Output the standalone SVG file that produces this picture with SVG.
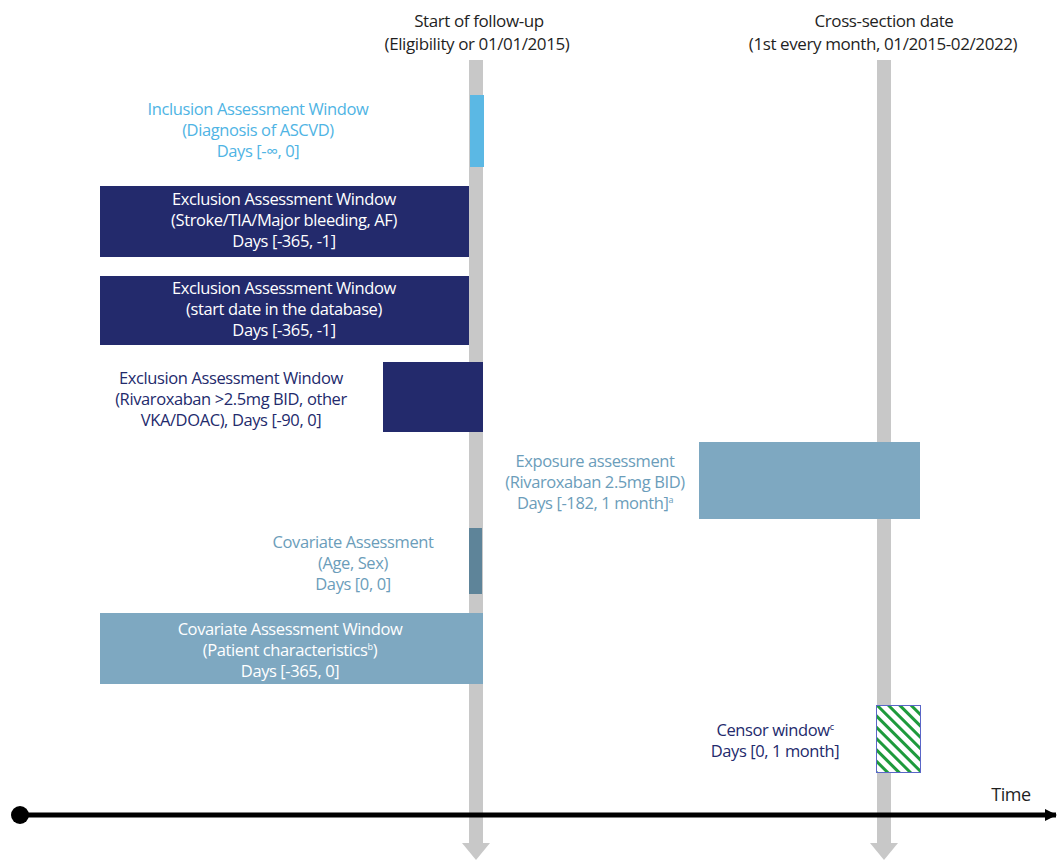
<svg xmlns="http://www.w3.org/2000/svg" width="1057" height="860" viewBox="0 0 1057 860">
<defs>
<style>
text{font-family:"Open Sans","Noto Sans","Liberation Sans",sans-serif;font-size:16.5px;font-weight:500;text-anchor:middle;letter-spacing:-0.4px}
.dark{fill:#1f1f1f}
.ttl{font-size:17px}
.w{fill:#ffffff}
.navy{fill:#232a6c}
.lb{fill:#4fb4e4}
.sb{fill:#6b9dba}
.gbar{fill:#c8c8c8}
</style>
<pattern id="hatch" patternUnits="userSpaceOnUse" width="8" height="8" patternTransform="rotate(-45)">
<rect width="8" height="8" fill="#ffffff"/>
<rect width="3" height="8" fill="#1e9a3c"/>
</pattern>
<marker id="tarrow" markerWidth="12" markerHeight="12" refX="11" refY="6" orient="auto" markerUnits="userSpaceOnUse">
<path d="M0,0 L12,6 L0,12 Z" fill="#000"/>
</marker>
</defs>
<rect width="1057" height="860" fill="#ffffff"/>
<g id="connectors">
<g id="startline">
<rect class="gbar" x="469" y="60" width="14" height="784"/>
<path class="gbar" d="M462,843 L490,843 L476,860 Z"/>
</g>
<g id="crossline">
<rect class="gbar" x="877" y="60" width="14" height="784"/>
<path class="gbar" d="M870,843 L898,843 L884,860 Z"/>
</g>
<g id="timeline">
<line x1="20" y1="815" x2="1056" y2="815" stroke="#000" stroke-width="5" marker-end="url(#tarrow)"/>
<circle cx="20" cy="815" r="9" fill="#000"/>
</g>
</g>
<g id="label-start">
<text class="dark ttl" x="479" y="27">Start of follow-up</text>
<text class="dark ttl" x="477" y="50">(Eligibility or 01/01/2015)</text>
</g>
<g id="label-cross">
<text class="dark ttl" x="884" y="27">Cross-section date</text>
<text class="dark ttl" x="883" y="50">(1st every month, 01/2015-02/2022)</text>
</g>
<g id="inclusion">
<rect x="470" y="95" width="14" height="72" fill="#5bb8e4"/>
<text class="lb" x="258" y="115">Inclusion Assessment Window</text>
<text class="lb" x="258" y="136">(Diagnosis of ASCVD)</text>
<text class="lb" x="258" y="157">Days [-∞, 0]</text>
</g>
<g id="exclusion1">
<rect x="100" y="186" width="369" height="71" fill="#232a6c"/>
<text class="w" x="284" y="205">Exclusion Assessment Window</text>
<text class="w" x="284" y="226">(Stroke/TIA/Major bleeding, AF)</text>
<text class="w" x="284" y="247">Days [-365, -1]</text>
</g>
<g id="exclusion2">
<rect x="100" y="276" width="369" height="69" fill="#232a6c"/>
<text class="w" x="284" y="294">Exclusion Assessment Window</text>
<text class="w" x="284" y="315">(start date in the database)</text>
<text class="w" x="284" y="336">Days [-365, -1]</text>
</g>
<g id="exclusion3">
<rect x="383" y="362" width="100" height="70" fill="#232a6c"/>
<text class="navy" x="231" y="384">Exclusion Assessment Window</text>
<text class="navy" x="231" y="405">(Rivaroxaban &gt;2.5mg BID, other</text>
<text class="navy" x="231" y="426">VKA/DOAC), Days [-90, 0]</text>
</g>
<g id="exposure">
<rect x="699" y="442" width="221" height="77" fill="#7ea8c1"/>
<text class="sb" x="595" y="467">Exposure assessment</text>
<text class="sb" x="595" y="488">(Rivaroxaban 2.5mg BID)</text>
<text class="sb" x="595" y="509">Days [-182, 1 month]<tspan font-size="9" dy="-6">a</tspan></text>
</g>
<g id="covariate-agesex">
<rect x="469" y="528" width="13" height="66" fill="#5e8499"/>
<text class="sb" x="353" y="548">Covariate Assessment</text>
<text class="sb" x="353" y="569">(Age, Sex)</text>
<text class="sb" x="353" y="590">Days [0, 0]</text>
</g>
<g id="covariate-window">
<rect x="100" y="613" width="383" height="71" fill="#7ea8c1"/>
<text class="w" x="290" y="635">Covariate Assessment Window</text>
<text class="w" x="290" y="656">(Patient characteristics<tspan font-size="9" dy="-6">b</tspan><tspan dy="6">)</tspan></text>
<text class="w" x="290" y="677">Days [-365, 0]</text>
</g>
<g id="censor">
<rect x="876.5" y="705.5" width="44" height="67" fill="url(#hatch)" stroke="#5a66c8" stroke-width="1"/>
<text class="navy" x="775" y="736">Censor window<tspan font-size="9" dy="-6">c</tspan></text>
<text class="navy" x="775" y="757">Days [0, 1 month]</text>
</g>
<g id="time-label">
<text class="dark" x="1011" y="801" style="font-size:18px">Time</text>
</g>
</svg>
